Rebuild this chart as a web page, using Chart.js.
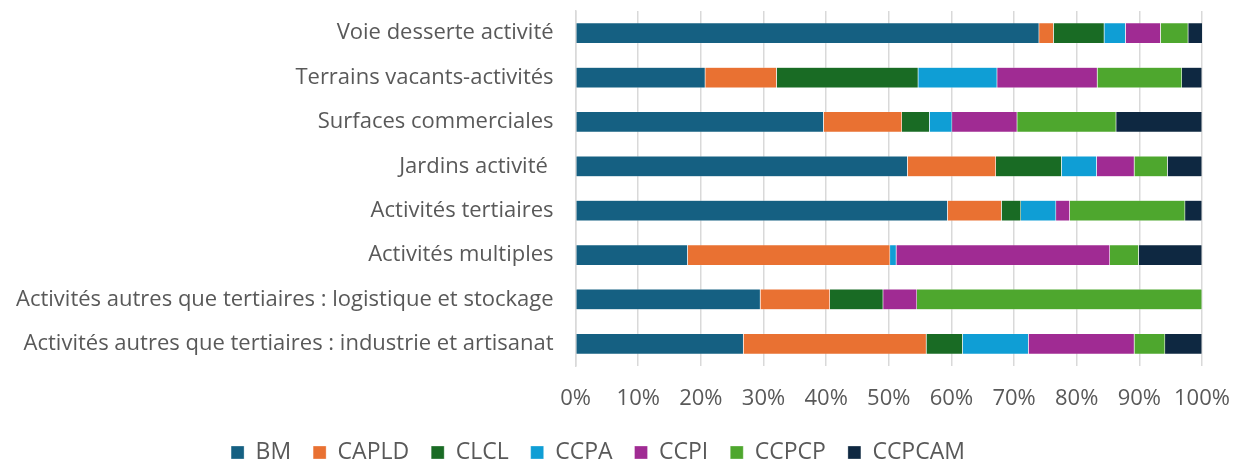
<!DOCTYPE html>
<html>
<head>
<meta charset="utf-8">
<script src="https://cdn.jsdelivr.net/npm/chart.js@4.4.0/dist/chart.umd.min.js"></script>
<style>
  html, body { margin: 0; padding: 0; background: #fff; }
  #wrap { width: 1236px; height: 459px; position: relative; }
</style>
</head>
<body>
<div id="wrap"><canvas id="chart"></canvas></div>
<script>
const categories = [
    'Voie desserte activité',
    'Terrains vacants-activités',
    'Surfaces commerciales',
    'Jardins activité ',
    'Activités tertiaires',
    'Activités multiples',
    'Activités autres que tertiaires : logistique et stockage',
    'Activités autres que tertiaires : industrie et artisanat'
];

const BM     = [74.0, 20.7, 39.6, 53.0, 59.4, 17.9, 29.5, 26.8];
const CAPLD  = [ 2.3, 11.4, 12.5, 14.1,  8.6, 32.3, 11.1, 29.2];
const CLCL   = [ 8.1, 22.6,  4.4, 10.5,  3.1,  0.0,  8.5,  5.8];
const CCPA   = [ 3.4, 12.6,  3.6,  5.6,  5.6,  1.0,  0.0, 10.5];
const CCPI   = [ 5.6, 16.0, 10.4,  6.0,  2.2, 34.1,  5.4, 16.9];
const CCPCP  = [ 4.4, 13.5, 15.8,  5.3, 18.4,  4.6, 45.5,  4.9];
const CCPCAM = [ 2.3,  3.2, 13.7,  5.5,  2.7, 10.1,  0.0,  5.9];

const TEXT = '#595959';
const FONT = "'Open Sans', sans-serif";

Chart.defaults.font.family = FONT;
Chart.defaults.color = TEXT;

function ds(label, data, color) {
    return {
        label, data,
        backgroundColor: color,
        borderColor: 'rgba(255,255,255,0.6)',
        borderWidth: 0.5,
        barPercentage: 0.47,
        categoryPercentage: 1.0
    };
}

new Chart(document.getElementById('chart'), {
    type: 'bar',
    data: {
        labels: categories,
        datasets: [
            ds('BM',     BM,     '#156082'),
            ds('CAPLD',  CAPLD,  '#E97132'),
            ds('CLCL',   CLCL,   '#196B24'),
            ds('CCPA',   CCPA,   '#0F9ED5'),
            ds('CCPI',   CCPI,   '#A02B93'),
            ds('CCPCP',  CCPCP,  '#4EA72E'),
            ds('CCPCAM', CCPCAM, '#0E2841')
        ]
    },
    options: {
        indexAxis: 'y',
        responsive: true,
        maintainAspectRatio: false,
        animation: false,
        layout: { padding: { left: -6, right: 34, top: 11, bottom: 0 } },
        plugins: {
            legend: {
                position: 'bottom',
                maxHeight: 40,
                labels: { boxWidth: 13, boxHeight: 13, padding: 22, color: TEXT, font: { size: 23 } }
            },
            tooltip: { enabled: false }
        },
        scales: {
            x: {
                stacked: true, min: 0, max: 100,
                grid: { color: '#d9d9d9', lineWidth: 1.5, drawTicks: false },
                border: { display: false },
                ticks: {
                    stepSize: 10, padding: 20, color: TEXT, font: { size: 22 },
                    maxRotation: 0, minRotation: 0, autoSkip: false,
                    callback: v => v + '%'
                },
                afterFit: s => { s.height = 53; s.paddingRight = 0; }
            },
            y: {
                stacked: true,
                grid: { display: false, drawTicks: false },
                border: { color: '#d9d9d9', width: 1.5 },
                ticks: { padding: 22, color: TEXT, font: { size: 22 } },
                afterFit: s => { s.paddingTop = 0; s.paddingBottom = 0; }
            }
        }
    }
});
</script>
</body>
</html>
